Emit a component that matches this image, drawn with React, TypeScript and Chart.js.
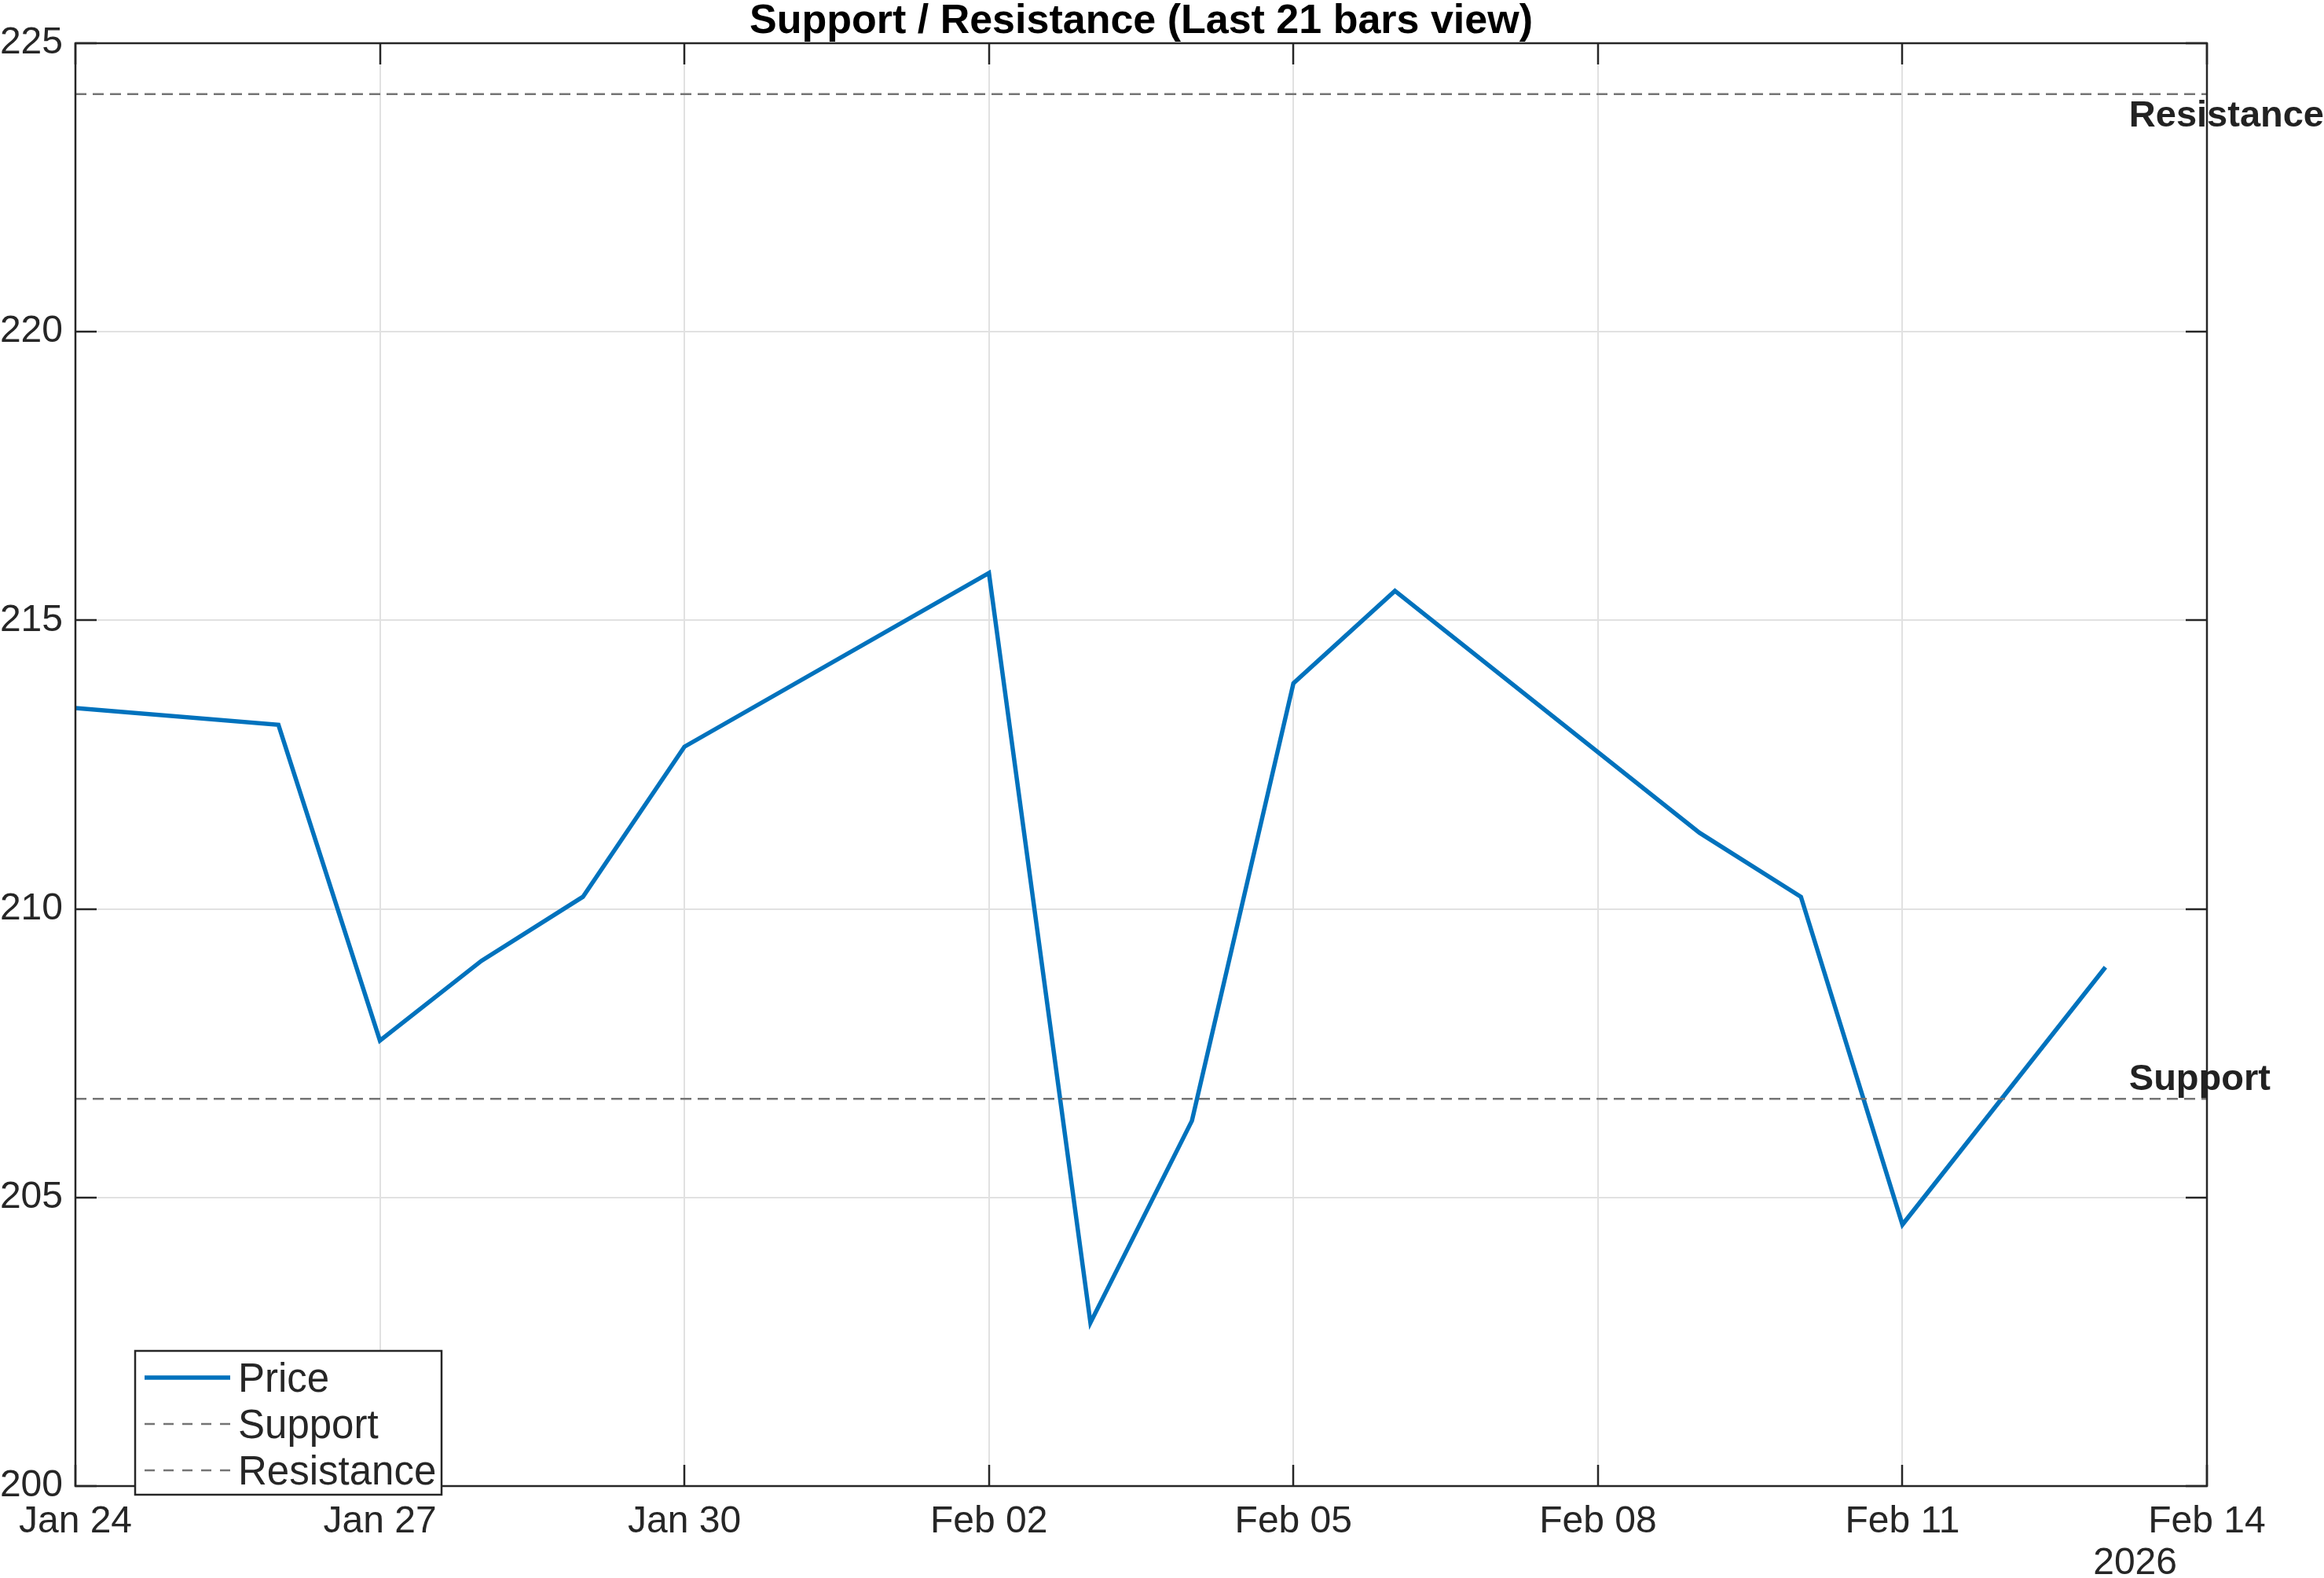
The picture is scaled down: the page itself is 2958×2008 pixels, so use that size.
import React, { useEffect, useRef } from "react";
import { Chart, registerables } from "chart.js";

Chart.register(...registerables);

// ---------- data ----------
const TITLE = "Support / Resistance (Last 21 bars view)";
const START_DATE = "2026-01-24";
const END_DATE = "2026-02-14";
const dates = [
  "2026-01-24", "2026-01-26", "2026-01-27", "2026-01-28", "2026-01-29",
  "2026-01-30", "2026-02-02", "2026-02-03", "2026-02-04", "2026-02-05",
  "2026-02-06", "2026-02-09", "2026-02-10", "2026-02-11", "2026-02-13",
];
const prices = [
  213.48, 213.19, 207.72, 209.1, 210.21,
  212.81, 215.82, 202.83, 206.33, 213.91,
  215.51, 211.32, 210.21, 204.53, 208.99,
];
const supportLevel = 206.71;
const resistanceLevel = 224.12;
const xTickDates = [
  "2026-01-24", "2026-01-27", "2026-01-30", "2026-02-02",
  "2026-02-05", "2026-02-08", "2026-02-11", "2026-02-14",
];
const xTickLabels = ["Jan 24", "Jan 27", "Jan 30", "Feb 02", "Feb 05", "Feb 08", "Feb 11", "Feb 14"];
const yTickValues = [200, 205, 210, 215, 220, 225];
const yearLabel = "2026";
const seriesNames = ["Price", "Support", "Resistance"];
const annotationTexts = ["Support", "Resistance"];

// ---------- helpers ----------
const DAY = 86400000;
const dayIndex = (d: string) =>
  (Date.parse(d + "T00:00:00Z") - Date.parse(START_DATE + "T00:00:00Z")) / DAY;

const FONT = "'Liberation Sans', Arial, Helvetica, sans-serif";
const AXIS_COLOR = "#262626";
const PRICE_COLOR = "#0072BD";
const LEVEL_COLOR = "#747474";
const MAIN_DASH = [14, 8];
const TICK_FONT_SIZE = 48;

const decorPlugin = {
  id: "matlabDecor",
  afterDatasetsDraw(chart: any) {
    const { ctx, chartArea: a, scales } = chart;
    const x = scales.x;
    const y = scales.y;
    ctx.save();

    // axes box
    ctx.strokeStyle = AXIS_COLOR;
    ctx.lineWidth = 2.5;
    ctx.setLineDash([]);
    ctx.strokeRect(a.left, a.top, a.right - a.left, a.bottom - a.top);

    // inward ticks on all four sides
    const TL = 27;
    ctx.beginPath();
    x.ticks.forEach((t: any) => {
      const px = Math.round(x.getPixelForValue(t.value));
      ctx.moveTo(px, a.bottom);
      ctx.lineTo(px, a.bottom - TL);
      ctx.moveTo(px, a.top);
      ctx.lineTo(px, a.top + TL);
    });
    y.ticks.forEach((t: any) => {
      const py = Math.round(y.getPixelForValue(t.value));
      ctx.moveTo(a.left, py);
      ctx.lineTo(a.left + TL, py);
      ctx.moveTo(a.right, py);
      ctx.lineTo(a.right - TL, py);
    });
    ctx.stroke();

    // year label under the last tick
    ctx.fillStyle = AXIS_COLOR;
    ctx.font = `${TICK_FONT_SIZE}px ${FONT}`;
    ctx.textAlign = "right";
    ctx.textBaseline = "alphabetic";
    ctx.fillText(yearLabel, a.right - 38, 2003);

    // annotations next to the level lines
    const lastX = x.getPixelForValue(dayIndex(dates[dates.length - 1]));
    ctx.fillStyle = "#222222";
    ctx.font = `bold 47px ${FONT}`;
    ctx.textAlign = "left";
    ctx.fillText(annotationTexts[0], lastX + 30, y.getPixelForValue(supportLevel) - 11);
    ctx.fillText(annotationTexts[1], lastX + 30, y.getPixelForValue(resistanceLevel) + 41);

    // title
    ctx.fillStyle = "#000000";
    ctx.font = `bold 52px ${FONT}`;
    ctx.textAlign = "center";
    ctx.fillText(TITLE, (a.left + a.right) / 2, 42);

    // legend
    const lx = 172, ly = 1719, lw = 390, lh = 183;
    ctx.fillStyle = "#ffffff";
    ctx.fillRect(lx, ly, lw, lh);
    ctx.strokeStyle = AXIS_COLOR;
    ctx.lineWidth = 2.5;
    ctx.setLineDash([]);
    ctx.strokeRect(lx, ly, lw, lh);
    const rows = [1753, 1812, 1871];
    const styles = [
      { color: PRICE_COLOR, width: 5.5, dash: [] as number[] },
      { color: LEVEL_COLOR, width: 2.5, dash: [13, 11] },
      { color: LEVEL_COLOR, width: 2.5, dash: [13, 11] },
    ];
    seriesNames.forEach((name, i) => {
      const s = styles[i];
      ctx.strokeStyle = s.color;
      ctx.lineWidth = s.width;
      ctx.setLineDash(s.dash);
      ctx.beginPath();
      ctx.moveTo(184, rows[i]);
      ctx.lineTo(293, rows[i]);
      ctx.stroke();
      ctx.setLineDash([]);
      ctx.fillStyle = AXIS_COLOR;
      ctx.font = `51px ${FONT}`;
      ctx.textAlign = "left";
      ctx.textBaseline = "alphabetic";
      ctx.fillText(name, 303, rows[i] + 18);
    });

    ctx.restore();
  },
};

export default function App() {
  const ref = useRef<HTMLCanvasElement | null>(null);

  useEffect(() => {
    document.body.style.margin = "0";
    const canvas = ref.current;
    if (!canvas) return;
    const xMin = dayIndex(START_DATE);
    const xMax = dayIndex(END_DATE);

    const chart = new Chart(canvas, {
      type: "line",
      data: {
        datasets: [
          {
            label: seriesNames[0],
            data: dates.map((d, i) => ({ x: dayIndex(d), y: prices[i] })),
            borderColor: PRICE_COLOR,
            borderWidth: 5.5,
            pointRadius: 0,
            tension: 0,
            fill: false,
            order: 2,
          },
          {
            label: seriesNames[1],
            data: [
              { x: xMin, y: supportLevel },
              { x: xMax, y: supportLevel },
            ],
            borderColor: LEVEL_COLOR,
            borderWidth: 2.5,
            borderDash: MAIN_DASH,
            pointRadius: 0,
            fill: false,
            order: 1,
          },
          {
            label: seriesNames[2],
            data: [
              { x: xMin, y: resistanceLevel },
              { x: xMax, y: resistanceLevel },
            ],
            borderColor: LEVEL_COLOR,
            borderWidth: 2.5,
            borderDash: MAIN_DASH,
            pointRadius: 0,
            fill: false,
            order: 1,
          },
        ],
      },
      options: {
        responsive: false,
        animation: false,
        devicePixelRatio: 1,
        layout: { padding: { top: 55, right: 149, left: 0, bottom: 0 } },
        plugins: {
          legend: { display: false },
          title: { display: false },
          tooltip: { enabled: false },
        },
        scales: {
          x: {
            type: "linear",
            min: xMin,
            max: xMax,
            afterBuildTicks: (s: any) => {
              s.ticks = xTickDates.map((d) => ({ value: dayIndex(d) }));
            },
            afterFit: (s: any) => {
              s.height = 117;
            },
            grid: { color: "#e1e1e1", lineWidth: 2, drawTicks: false },
            border: { display: false },
            ticks: {
              autoSkip: false,
              maxRotation: 0,
              padding: 17,
              color: AXIS_COLOR,
              font: { family: FONT, size: TICK_FONT_SIZE },
              callback: (_v: any, i: number) => xTickLabels[i],
            },
          },
          y: {
            type: "linear",
            min: yTickValues[0],
            max: yTickValues[yTickValues.length - 1],
            afterBuildTicks: (s: any) => {
              s.ticks = yTickValues.map((v) => ({ value: v }));
            },
            afterFit: (s: any) => {
              s.width = 96;
            },
            grid: { color: "#e1e1e1", lineWidth: 2, drawTicks: false },
            border: { display: false },
            ticks: {
              padding: 16,
              color: AXIS_COLOR,
              font: { family: FONT, size: TICK_FONT_SIZE },
              callback: (v: any) => String(v),
            },
          },
        },
      },
      plugins: [decorPlugin],
    } as any);

    return () => chart.destroy();
  }, []);

  return (
    <div style={{ width: 2958, height: 2008, background: "#ffffff" }}>
      <canvas ref={ref} width={2958} height={2008} style={{ display: "block" }} />
    </div>
  );
}
